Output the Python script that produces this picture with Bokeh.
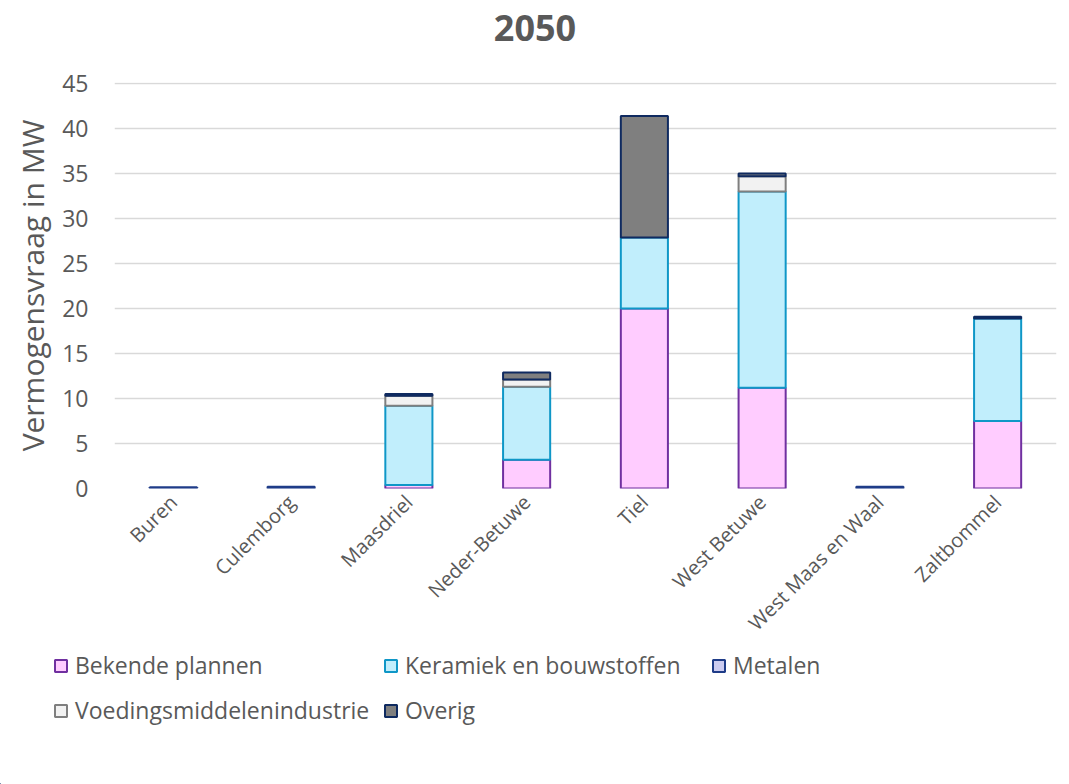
import math
from bokeh.plotting import figure
from bokeh.layouts import column
from bokeh.models import (ColumnDataSource, Legend, LegendItem, Range1d, FixedTicker,
                          Label)
from bokeh.embed import file_html
from bokeh.resources import INLINE

categories = ["Buren", "Culemborg", "Maasdriel", "Neder-Betuwe", "Tiel",
              "West Betuwe", "West Maas en Waal", "Zaltbommel"]
bekende = [0, 0, 0.4, 3.2, 20.0, 11.2, 0, 7.5]
keramiek = [0, 0, 8.8, 8.1, 7.9, 21.8, 0, 11.4]
metalen = [0.15, 0.2, 0, 0, 0, 0, 0.2, 0]
voeding = [0, 0, 1.1, 0.8, 0, 1.7, 0, 0]
overig = [0, 0, 0.2, 0.8, 13.5, 0.3, 0, 0.2]
y_ticks = [0, 5, 10, 15, 20, 25, 30, 35, 40, 45]
title_text = "2050"
y_label = "Vermogensvraag in MW"

FONT = "Open Sans"
TXT = "#595959"
W = 1069


def blank_fig(height):
    f = figure(width=W, height=height, output_backend="svg", toolbar_location=None,
               x_axis_type=None, y_axis_type=None,
               x_range=Range1d(0, 1), y_range=Range1d(0, 1),
               min_border_left=0, min_border_right=0, min_border_top=0,
               min_border_bottom=0)
    f.frame_align = False
    f.outline_line_color = None
    f.xgrid.visible = False
    f.ygrid.visible = False
    f.border_fill_color = "white"
    f.background_fill_color = "white"
    return f


# ---- header with title ----
head = blank_fig(62)
head.add_layout(Label(x=0.5, y=0.55, text=title_text, text_align="center",
                      text_baseline="middle", text_font=FONT, text_font_size="36px",
                      text_font_style="bold", text_color=TXT))

# ---- main chart ----
p = figure(x_range=categories, y_range=Range1d(0, 45.12), width=W, height=586,
           output_backend="svg", toolbar_location=None,
           min_border_left=114, min_border_right=13, min_border_top=20,
           min_border_bottom=160)
p.frame_align = False
p.outline_line_color = None
p.background_fill_color = "white"
p.border_fill_color = "white"

series = [
    ("Bekende plannen", bekende, "#FFCCFF", "#7030A0"),
    ("Keramiek en bouwstoffen", keramiek, "#C1EEFC", "#0F97C7"),
    ("Metalen", metalen, "#CCCCF0", "#1F3C88"),
    ("Voedingsmiddelenindustrie", voeding, "#F2F2F2", "#7F7F7F"),
    ("Overig", overig, "#7F7F7F", "#0F2A60"),
]

base = [0.0] * len(categories)
for name, vals, fc, lc in series:
    xs, bots, tops = [], [], []
    for c, b, v in zip(categories, base, vals):
        if v > 0:
            xs.append(c)
            bots.append(b)
            tops.append(b + v)
    src = ColumnDataSource(dict(x=xs, bottom=bots, top=tops))
    p.vbar(x="x", bottom="bottom", top="top", width=0.4, source=src,
           fill_color=fc, line_color=lc, line_width=2)
    base = [b + v for b, v in zip(base, vals)]

p.yaxis.ticker = FixedTicker(ticks=y_ticks)
p.yaxis.axis_label = y_label
p.yaxis.axis_label_text_font = FONT
p.yaxis.axis_label_text_font_size = "30px"
p.yaxis.axis_label_text_font_style = "normal"
p.yaxis.axis_label_text_color = TXT
p.yaxis.axis_label_standoff = 6
p.yaxis.major_label_text_font = FONT
p.yaxis.major_label_text_font_size = "23px"
p.yaxis.major_label_text_color = TXT
p.yaxis.major_label_standoff = 26

p.xaxis.major_label_orientation = math.pi / 4
p.xaxis.major_label_text_font = FONT
p.xaxis.major_label_text_font_size = "20px"
p.xaxis.major_label_text_color = TXT
p.xaxis.major_label_standoff = 10

for ax in (p.xaxis, p.yaxis):
    ax.axis_line_color = None
    ax.major_tick_line_color = None
    ax.minor_tick_line_color = None
    ax.major_tick_out = 0
    ax.major_tick_in = 0
    ax.minor_tick_out = 0
    ax.minor_tick_in = 0

p.xgrid.grid_line_color = None
p.ygrid.grid_line_color = "#D9D9D9"
p.ygrid.grid_line_width = 1.5

# ---- legend panel ----
q = blank_fig(136)
legend_rends = {}
for name, vals, fc, lc in series:
    # legend swatch source (kept outside the visible range)
    legend_rends[name] = q.vbar(x=[-1], bottom=[-1], top=[-0.5], width=0.4,
                                fill_color=fc, line_color=lc, line_width=2)


def make_legend(names, loc):
    lg = Legend(items=[LegendItem(label=n, renderers=[legend_rends[n]]) for n in names],
                location=loc, orientation="vertical",
                label_text_font=FONT, label_text_font_size="23px",
                label_text_color=TXT, glyph_width=15, glyph_height=15,
                label_standoff=7, label_height=34, spacing=11, padding=0,
                margin=0, border_line_color=None, background_fill_alpha=0)
    q.add_layout(lg, "center")


make_legend(["Bekende plannen", "Voedingsmiddelenindustrie"], (53, 57))
make_legend(["Keramiek en bouwstoffen", "Overig"], (383, 57))
make_legend(["Metalen"], (711, 102))

layout = column(head, p, q, spacing=0)
open("out.html", "w").write(file_html(layout, INLINE))
